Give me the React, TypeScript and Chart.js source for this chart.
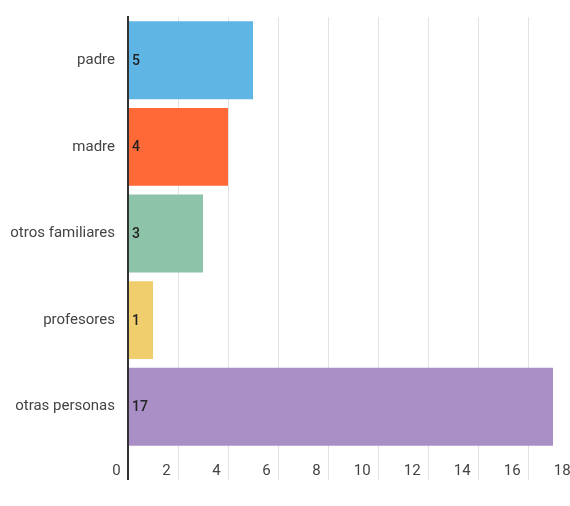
import React, { useEffect, useRef } from 'react';
import { Chart, registerables } from 'chart.js';

Chart.register(...registerables);

const categories = ['padre', 'madre', 'otros familiares', 'profesores', 'otras personas'];
const values = [5, 4, 3, 1, 17];
const colors = ['#5fb5e4', '#fe6937', '#8dc3a8', '#f1ce6d', '#aa8fc7'];
const xMin = 0;
const xMax = 18;
const xStep = 2;

export default function App() {
  const ref = useRef<HTMLCanvasElement>(null);

  useEffect(() => {
    if (!ref.current) return;
    const valueLabels = {
      id: 'valueLabels',
      afterDatasetsDraw(chart: any) {
        const ctx = chart.ctx;
        const meta = chart.getDatasetMeta(0);
        ctx.save();
        ctx.font = '500 14px Roboto';
        ctx.fillStyle = '#222222';
        ctx.textAlign = 'left';
        ctx.textBaseline = 'middle';
        meta.data.forEach((bar: any, i: number) => {
          ctx.fillText(String(values[i]), bar.base + 3, bar.y + 1);
        });
        ctx.restore();
      },
    };
    const chart = new Chart(ref.current, {
      type: 'bar',
      data: {
        labels: categories,
        datasets: [
          {
            data: values,
            backgroundColor: colors,
            barPercentage: 0.9,
            categoryPercentage: 1,
          },
        ],
      },
      options: {
        indexAxis: 'y',
        responsive: false,
        animation: false,
        layout: { padding: { top: 17, left: 0, right: 22, bottom: 0 } },
        plugins: { legend: { display: false }, tooltip: { enabled: false } },
        scales: {
          x: {
            min: xMin,
            max: xMax,
            ticks: {
              stepSize: xStep,
              align: 'end',
              padding: -18,
              color: '#444444',
              font: { family: 'Roboto', size: 15 },
              callback: (v: any) => v + '  ',
            },
            grid: {
              color: (c: any) => (c.tick && c.tick.value === 0 ? '#333333' : '#e3e3e3'),
              lineWidth: (c: any) => (c.tick && c.tick.value === 0 ? 2 : 1),
              tickLength: 30,
              drawTicks: true,
            },
            border: { display: false },
            afterFit: (s: any) => {
              s.height = 56;
              s.paddingLeft = 0;
              s.paddingRight = 0;
            },
          },
          y: {
            ticks: {
              color: '#444444',
              font: { family: 'Roboto', size: 15 },
              padding: 13,
            },
            grid: { display: false, drawTicks: false },
            border: { display: true, color: '#333333', width: 2 },
            z: 1,
            afterFit: (s: any) => {
              s.width = 128;
              s.paddingTop = 0;
              s.paddingBottom = 0;
            },
          },
        },
      } as any,
      plugins: [valueLabels],
    });
    return () => chart.destroy();
  }, []);

  return (
    <div style={{ position: 'fixed', left: 0, top: 0, width: 570, height: 506, overflow: 'hidden', background: '#fff' }}>
      <canvas ref={ref} width={600} height={506} style={{ display: 'block', width: 600, height: 506 }} />
    </div>
  );
}
